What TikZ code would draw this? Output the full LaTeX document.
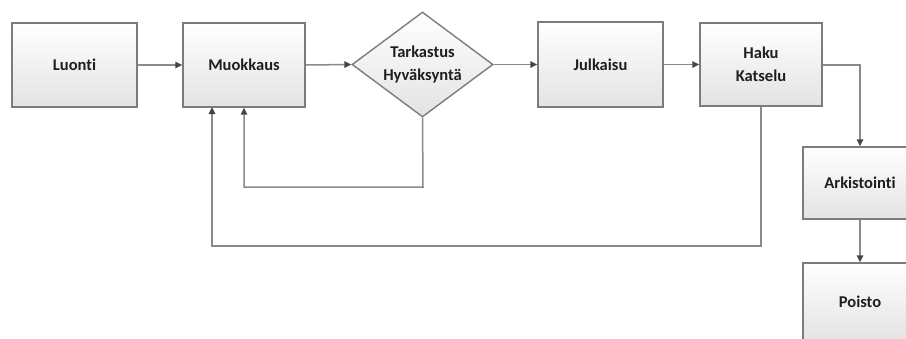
\documentclass[tikz,border=0pt]{standalone}
\usepackage{fontspec}
\setmainfont{Carlito}[Ligatures=NoCommon]
\usetikzlibrary{shapes.geometric,arrows.meta}
\definecolor{linegray}{HTML}{8A8A8A}
\definecolor{boxborder}{HTML}{7C7C7C}
\definecolor{tipdark}{HTML}{454545}
\definecolor{txt}{HTML}{1E1E1E}
\tikzset{
  box/.style={draw=boxborder, line width=1.4pt, top color=white, bottom color=black!11,
    inner sep=0pt, font=\bfseries\fontsize{16.5}{23}\selectfont, text=txt, align=center},
  dia/.style={box, diamond, aspect=1.34},
  conn/.style={draw=linegray, line width=1.5pt,
    -{Triangle[length=7pt,width=6.5pt,color=tipdark]}},
}
\begin{document}
\begin{tikzpicture}[x=1pt,y=-1pt]
\useasboundingbox (0,0) rectangle (906,338);
\fill[white] (0,0) rectangle (906,338);
\node[box, minimum width=125pt, minimum height=84pt] (luonti) at (74.5,65) {Luonti};
\node[box, minimum width=122pt, minimum height=84pt] (muok) at (244,65) {Muokkaus};
\node[dia, minimum width=141pt, minimum height=105pt] (tark) at (422.5,64.5) {Tarkastus\\Hyväksyntä};
\node[box, minimum width=125pt, minimum height=85pt] (julk) at (600.5,64.5) {Julkaisu};
\node[box, minimum width=122pt, minimum height=83pt] (haku) at (761,64.5) {Haku\\Katselu};
\node[box, minimum width=114pt, minimum height=72pt] (ark) at (860,183) {Arkistointi};
\node[box, minimum width=114pt, minimum height=78pt] (pois) at (860,302) {Poisto};
\coordinate (mA) at (212,107);
\draw[conn] (luonti.east) -- (muok.west);
\draw[conn] (muok.east) -- (tark.west);
\draw[conn] (tark.east) -- (julk.east -| julk.west);
\draw[conn] (julk.east) -- (haku.west |- julk.east);
\draw[conn] (haku.east |- 0,65) -| (ark.north);
\draw[conn] (ark.south) -- (pois.north);
\draw[conn] (tark.south) -- (423,187) -| (muok.south);
\draw[conn] (haku.south) -- (761,246) -| (mA);
\end{tikzpicture}
\end{document}
